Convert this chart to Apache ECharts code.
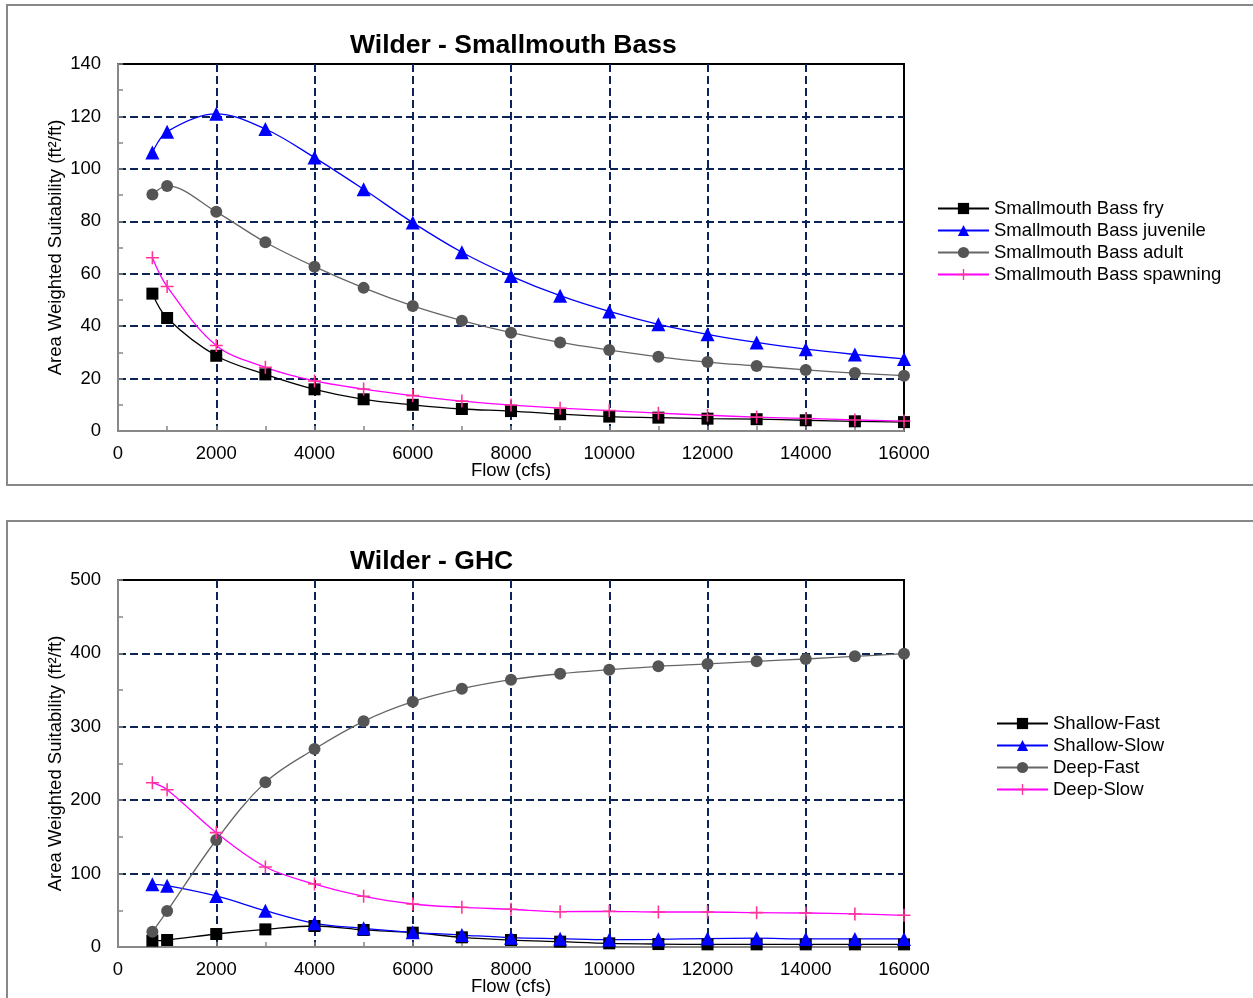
<!DOCTYPE html>
<html>
<head>
<meta charset="utf-8">
<script src="https://cdn.jsdelivr.net/npm/echarts@6/dist/echarts.min.js"></script>
<style>
  html, body { margin: 0; padding: 0; background: #fff; }
  #main { width: 1253px; height: 998px; }
</style>
</head>
<body>
<div id="main"></div>
<script>
"use strict";
// flows (cfs) shared by both charts
let flows = [700, 1000, 2000, 3000, 4000, 5000, 6000, 7000, 8000, 9000, 10000, 11000, 12000, 13000, 14000, 15000, 16000];

// Smallmouth Bass
let bassFry = [52.4, 43.1, 28.7, 21.6, 15.9, 12.1, 10.0, 8.4, 7.6, 6.4, 5.5, 5.1, 4.7, 4.5, 4.1, 3.7, 3.4];
let bassJuvenile = [106.2, 114.2, 121.0, 115.2, 104.3, 92.2, 79.5, 68.2, 59.1, 51.6, 45.6, 40.7, 36.9, 33.8, 31.2, 29.2, 27.5];
let bassAdult = [90.2, 93.5, 83.6, 72.0, 62.7, 54.6, 47.7, 42.1, 37.5, 33.8, 30.9, 28.3, 26.3, 24.8, 23.3, 22.1, 21.1];
let bassSpawning = [66.1, 55.1, 32.6, 24.3, 19.1, 16.0, 13.5, 11.4, 9.9, 8.7, 7.8, 6.8, 6.0, 5.3, 4.8, 4.2, 3.8];

// GHC
let shallowFast = [8.6, 9.5, 17.7, 24.0, 28.6, 23.2, 19.5, 13.2, 9.5, 7.3, 5.0, 4.0, 3.6, 3.6, 3.6, 3.6, 3.6];
let shallowSlow = [85.4, 83.6, 69.5, 49.5, 32.3, 25.5, 20.0, 16.3, 12.7, 11.3, 10.0, 10.5, 11.5, 12.0, 11.0, 11.0, 11.0];
let deepFast = [20.8, 49.0, 145.8, 224.3, 269.7, 307.5, 334.2, 351.9, 364.2, 372.3, 377.8, 382.4, 385.6, 389.2, 392.4, 396.0, 399.6];
let deepSlow = [223.9, 214.3, 155.8, 109.0, 85.8, 69.1, 58.6, 54.1, 51.4, 48.1, 48.6, 47.7, 47.7, 46.8, 46.3, 45.0, 43.2];

let bassNames = ['Smallmouth Bass fry', 'Smallmouth Bass juvenile', 'Smallmouth Bass adult', 'Smallmouth Bass spawning'];
let ghcNames = ['Shallow-Fast', 'Shallow-Slow', 'Deep-Fast', 'Deep-Slow'];

let FONT = 'Liberation Sans, Arial, sans-serif';
let PLUS = 'path://M4.4,0H5.6V10H4.4Z M0,4.4H10V5.6H0Z';
let gridLine = { show: true, showMinLine: false, showMaxLine: false, lineStyle: { color: '#0b2358', width: 2, type: [8, 4] } };

function pairs(ys) {
    return flows.map(function (x, i) { return [x, ys[i]]; });
}

// style of the 4 series, same for both charts
let styles = [
    { symbol: 'rect', size: 12, line: '#000000', mark: '#000000' },
    { symbol: 'triangle', size: 14, line: '#0000ff', mark: '#0000ff' },
    { symbol: 'circle', size: 12, line: '#666666', mark: '#555555' },
    { symbol: PLUS, size: 13, line: '#ff00ff', mark: '#ff3399' }
];

function makeSeries(names, datas, idx) {
    return names.map(function (n, i) {
        let s = styles[i];
        return {
            name: n,
            type: 'line',
            xAxisIndex: idx,
            yAxisIndex: idx,
            data: pairs(datas[i]),
            smooth: 0.35,
            symbol: s.symbol,
            symbolSize: s.size,
            showAllSymbol: true,
            lineStyle: { color: s.line, width: 1.3 },
            itemStyle: { color: s.mark },
            emphasis: { disabled: true }
        };
    });
}

function xAx(idx) {
    return {
        type: 'value', gridIndex: idx, min: 0, max: 16000, interval: 2000,
        name: 'Flow (cfs)', nameLocation: 'middle', nameGap: 30, nameMoveOverlap: false,
        nameTextStyle: { color: '#000', fontSize: 18.5, fontFamily: FONT },
        axisLine: { show: true, lineStyle: { color: '#888', width: 2 } },
        axisTick: { show: true, inside: true, length: 5, lineStyle: { color: '#888', width: 1.5 } },
        minorTick: { show: true, splitNumber: 2, length: 5, lineStyle: { color: '#888', width: 1.5 } },
        axisLabel: { color: '#000', fontSize: 18.5, fontFamily: FONT, margin: 13,
            formatter: function (v) { return String(v); } },
        splitLine: gridLine
    };
}

function yAx(idx, max, step) {
    return {
        type: 'value', gridIndex: idx, min: 0, max: max, interval: step,
        name: 'Area Weighted Suitability (ft²/ft)', nameLocation: 'middle', nameGap: 53, nameMoveOverlap: false,
        nameTextStyle: { color: '#000', fontSize: 18.5, fontFamily: FONT },
        axisLine: { show: true, lineStyle: { color: '#888', width: 2 } },
        axisTick: { show: true, inside: true, length: 5, lineStyle: { color: '#888', width: 1.5 } },
        minorTick: { show: true, splitNumber: 2, length: 5, lineStyle: { color: '#888', width: 1.5 } },
        axisLabel: { color: '#000', fontSize: 18.5, fontFamily: FONT, margin: 17,
            formatter: function (v) { return String(v); } },
        splitLine: gridLine
    };
}

let legendBase = {
    orient: 'vertical', itemWidth: 51, itemHeight: 14, itemGap: 3,
    textStyle: { color: '#000', fontSize: 18.5, fontFamily: FONT }
};

let myChart = echarts.init(document.getElementById('main'), null, { renderer: 'canvas' });

let option = {
    animation: false,
    backgroundColor: '#fff',
    title: [
        { text: 'Wilder - Smallmouth Bass', left: 350, top: 32, padding: 0,
          textStyle: { fontSize: 26.5, fontWeight: 'bold', color: '#000', fontFamily: FONT } },
        { text: 'Wilder - GHC', left: 350, top: 548, padding: 0,
          textStyle: { fontSize: 26.5, fontWeight: 'bold', color: '#000', fontFamily: FONT } }
    ],
    legend: [
        Object.assign({ data: bassNames, left: 937, top: 199, padding: 0 }, legendBase),
        Object.assign({ data: ghcNames, left: 996, top: 714, padding: 0 }, legendBase)
    ],
    grid: [
        { left: 118, top: 64, width: 786, height: 367, show: true, borderColor: '#000', borderWidth: 2, outerBoundsMode: 'none' },
        { left: 118, top: 580, width: 786, height: 367, show: true, borderColor: '#000', borderWidth: 2, outerBoundsMode: 'none' }
    ],
    xAxis: [xAx(0), xAx(1)],
    yAxis: [yAx(0, 140, 20), yAx(1, 500, 100)],
    series: makeSeries(bassNames, [bassFry, bassJuvenile, bassAdult, bassSpawning], 0)
        .concat(makeSeries(ghcNames, [shallowFast, shallowSlow, deepFast, deepSlow], 1)),
    graphic: [
        { type: 'rect', silent: true, z: -1, shape: { x: 7, y: 5, width: 1260, height: 480 },
          style: { fill: 'none', stroke: '#888', lineWidth: 2 } },
        { type: 'rect', silent: true, z: -1, shape: { x: 7, y: 521, width: 1260, height: 490 },
          style: { fill: 'none', stroke: '#888', lineWidth: 2 } }
    ]
};
myChart.setOption(option);
</script>
</body>
</html>
